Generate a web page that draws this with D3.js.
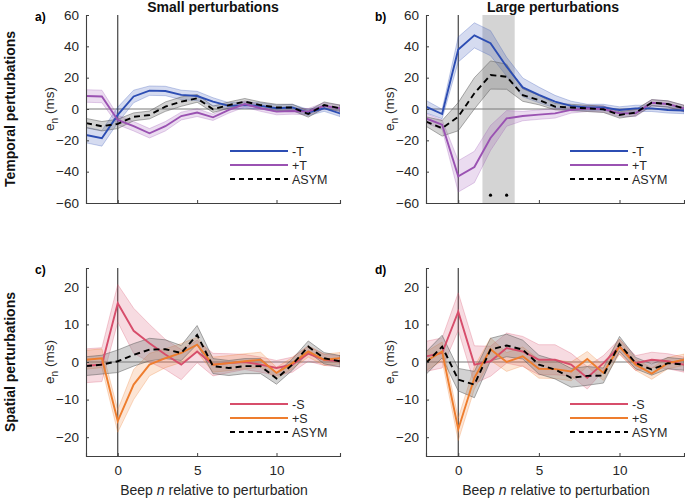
<!DOCTYPE html>
<html>
<head>
<meta charset="utf-8">
<script src="https://cdn.jsdelivr.net/npm/d3@7"></script>
<style>
  body { margin: 0; background: white; }
  svg { font-family: "Liberation Sans", Arial, sans-serif; }
</style>
</head>
<body>
<div id="chart"></div>
<script>
const W = 685, H = 500;

// beep index relative to perturbation
const beeps = [-2, -1, 0, 1, 2, 3, 4, 5, 6, 7, 8, 9, 10, 11, 12, 13, 14];
const xTicks = [0, 5, 10];
const tempTicks = [-60, -40, -20, 0, 20, 40, 60];
const spatTicks = [-20, -10, 0, 10, 20];

// panel a: small temporal
const aMinusT = [-16.6, -18.7, -3.8, 8, 11.7, 11.5, 9, 8.3, 4.7, 2, 2.5, 2, 0.5, 1, -2.3, 0.5, -2.8];
const aMinusTErr = [5, 5, 5, 4, 3, 3, 3, 3, 2.5, 2, 2, 2, 2, 2, 2, 2, 2];
const aPlusT = [8.3, 8, -7, -11, -15.5, -11, -4.5, -2.3, -5.3, -0.6, 3.2, 0.5, -1.7, -1.3, -1.7, 2, 0.5];
const aPlusTErr = [4, 4, 3, 3, 3, 3, 2.5, 2.5, 2, 2, 2, 2, 2, 2, 2, 2, 2];
const aAsym = [-9, -11, -9.5, -5, -3.8, 1.5, 4.7, 6.8, -0.2, 2.5, 4.7, 2.5, 1, 1, -3.2, 2.5, 0.5];
const aAsymErr = [3, 3, 3, 2.5, 2.5, 3, 3, 2.5, 2, 2, 2, 2, 2, 2, 2, 2, 2];

// panel b: large temporal
const bMinusT = [1.5, -3.2, 38, 47, 42, 27, 13.8, 9, 4.7, 2, 1, 1, -0.6, 0.4, 0.4, -0.6, -1];
const bMinusTErr = [4, 3, 8, 8, 8, 6, 6, 5, 4, 3, 2, 2, 2, 2, 2, 2, 2];
const bPlusT = [-6, -10, -43, -37, -18.5, -6, -4.5, -3.6, -2.8, -0.6, 0.4, 0, -2.8, -2.8, 4, 3.2, 0.4];
const bPlusTErr = [3, 3, 10, 10, 8, 5, 3, 3, 3, 2, 2, 2, 2, 2, 2, 2, 2];
const bAsym = [-8, -12.3, -4.9, 10, 21.7, 20.6, 8.9, 5.7, 1.5, 1, 0.4, -0.2, -3.8, -2.3, 4, 3.2, 0.4];
const bAsymErr = [3, 5, 9, 10, 9, 8, 4, 3, 2, 2, 2, 2, 2, 2, 2, 2, 2];
const sigBand = [1.5, 3.5];
const sigBeeps = [2, 3];

// panel c: small spatial
const cMinusS = [-1, -0.7, 15.6, 8.3, 5, 2, -0.7, 2.8, -0.7, -0.3, 0, -0.7, -1.6, -0.7, 2.2, 0.6, 0.2];
const cMinusSErr = [4.5, 4.5, 5, 6, 5, 4, 4, 3, 3, 2.5, 2, 2, 2, 2, 2, 1.5, 1.5];
const cPlusS = [0.6, 1, -15.7, -6, -0.7, 1, 2.4, 4.6, -0.7, -0.3, 0.2, 0.6, -2.9, -0.3, 2.8, 0.6, 1];
const cPlusSErr = [2.5, 2.5, 3, 4, 3, 2.5, 2.5, 2, 2, 2, 2, 2, 1.5, 1.5, 1.5, 1.5, 1.5];
const cAsym = [-1.1, -0.7, 0.2, 1.9, 3.3, 3.4, 2.4, 7.2, -1.1, -1.6, -1.1, -1.1, -4.4, -0.7, 4.1, 1, 0.2];
const cAsymErr = [2.5, 2.5, 3, 3, 3, 2.5, 2, 2.5, 2, 2, 2, 2, 1.5, 1.5, 1.5, 1.5, 1.5];

// panel d: large spatial
const dMinusS = [1.5, 2.4, 13.4, -0.7, 0.2, 3.7, 2.8, 0.6, 0.6, -0.7, -4.2, -0.3, 4.1, -0.3, 0.6, 0.2, -0.7];
const dMinusSErr = [4, 4, 5, 5, 4, 4, 4, 4, 4, 3, 3, 2, 2, 2, 2, 2, 2];
const dPlusS = [0.2, 2.8, -17.9, -4.2, 3.4, 0, 1.5, -1.8, -1.9, -2.5, 0.8, -2.9, 4.1, -0.7, -3.1, -0.3, 0.6];
const dPlusSErr = [2.5, 2.5, 3, 3, 3, 2.5, 2.5, 2.5, 2.5, 2.5, 2, 2, 2, 1.5, 1.5, 1.5, 1.5];
const dAsym = [-0.3, 4.1, -4.7, -6, 3.3, 4.4, 3.3, -0.7, -2, -4.2, -3.7, -3.6, 4.8, -0.3, -2, -0.3, -0.7];
const dAsymErr = [3, 3, 3, 3.5, 3, 3, 2.5, 2.5, 2.5, 2.5, 2.5, 2, 2, 1.5, 1.5, 1.5, 1.5];

const blue = "#2c4db3";
const purple = "#9a52b2";
const crimson = "#d74d6b";
const orange = "#ee7d2e";
const axisCol = "#404040";

const svg = d3.select("#chart").append("svg")
  .attr("width", W).attr("height", H);

const panels = [
  { id: "a)", x0: 86, x1: 340, y0: 15, y1: 203, dom: [-60, 60], ticks: tempTicks, xlab: false,
    series: [
      { name: "-T", v: aMinusT, e: aMinusTErr, c: blue },
      { name: "+T", v: aPlusT, e: aPlusTErr, c: purple },
      { name: "ASYM", v: aAsym, e: aAsymErr, c: "black", dash: true }] },
  { id: "b)", x0: 426, x1: 684, y0: 15, y1: 203, dom: [-60, 60], ticks: tempTicks, xlab: false, sig: true,
    series: [
      { name: "-T", v: bMinusT, e: bMinusTErr, c: blue },
      { name: "+T", v: bPlusT, e: bPlusTErr, c: purple },
      { name: "ASYM", v: bAsym, e: bAsymErr, c: "black", dash: true }] },
  { id: "c)", x0: 86, x1: 340, y0: 268, y1: 456, dom: [-25, 25], ticks: spatTicks, xlab: true,
    series: [
      { name: "-S", v: cMinusS, e: cMinusSErr, c: crimson },
      { name: "+S", v: cPlusS, e: cPlusSErr, c: orange },
      { name: "ASYM", v: cAsym, e: cAsymErr, c: "black", dash: true }] },
  { id: "d)", x0: 426, x1: 684, y0: 268, y1: 456, dom: [-25, 25], ticks: spatTicks, xlab: true,
    series: [
      { name: "-S", v: dMinusS, e: dMinusSErr, c: crimson },
      { name: "+S", v: dPlusS, e: dPlusSErr, c: orange },
      { name: "ASYM", v: dAsym, e: dAsymErr, c: "black", dash: true }] }
];

panels.forEach(p => {
  const x = d3.scaleLinear().domain([-2, 14]).range([p.x0, p.x1]);
  const y = d3.scaleLinear().domain(p.dom).range([p.y1, p.y0]);
  const g = svg.append("g");

  const clipId = "clip" + p.id[0];
  g.append("clipPath").attr("id", clipId).append("rect")
    .attr("x", p.x0).attr("y", p.y0).attr("width", p.x1 - p.x0).attr("height", p.y1 - p.y0);
  const plot = g.append("g").attr("clip-path", `url(#${clipId})`);

  if (p.sig) {
    plot.append("rect")
      .attr("x", x(sigBand[0])).attr("width", x(sigBand[1]) - x(sigBand[0]))
      .attr("y", p.y0).attr("height", p.y1 - p.y0)
      .attr("fill", "#d4d4d4");
  }

  // reference lines
  plot.append("line")
    .attr("x1", p.x0).attr("x2", p.x1).attr("y1", y(0)).attr("y2", y(0))
    .attr("stroke", "#7a7a7a").attr("stroke-width", 1.2);
  plot.append("line")
    .attr("x1", x(0)).attr("x2", x(0)).attr("y1", p.y0).attr("y2", p.y1)
    .attr("stroke", "#333").attr("stroke-width", 1.1);

  const area = d3.area().x((d, i) => x(beeps[i]))
    .y0(d => y(d[0])).y1(d => y(d[1]));
  const line = d3.line().x((d, i) => x(beeps[i])).y(d => y(d));

  p.series.forEach(s => {
    const band = s.v.map((v, i) => [v - s.e[i], v + s.e[i]]);
    const bandCol = s.dash ? "#7f7f7f" : s.c;
    plot.append("path").datum(band).attr("d", area)
      .attr("fill", bandCol).attr("fill-opacity", s.dash ? 0.35 : 0.2)
      .attr("stroke", s.dash ? "#555" : s.c).attr("stroke-opacity", s.dash ? 0.6 : 0.35)
      .attr("stroke-width", 0.8);
  });
  p.series.forEach(s => {
    plot.append("path").datum(s.v).attr("d", line)
      .attr("fill", "none").attr("stroke", s.c).attr("stroke-width", 1.9)
      .attr("stroke-dasharray", s.dash ? "6,4" : null);
  });

  if (p.sig) {
    g.selectAll("circle.sig").data(sigBeeps).join("circle")
      .attr("cx", d => x(d)).attr("cy", y(-55)).attr("r", 1.6).attr("fill", "black");
  }

  // axes (ticks inward, MATLAB style)
  const ya = g.append("g").attr("transform", `translate(${p.x0},0)`)
    .call(d3.axisLeft(y).tickValues(p.ticks).tickSize(-3).tickPadding(7));
  const xa = g.append("g").attr("transform", `translate(0,${p.y1})`)
    .call(d3.axisBottom(x).tickValues(xTicks).tickSize(-3).tickPadding(9)
      .tickFormat(p.xlab ? d3.format("d") : () => ""));
  [ya, xa].forEach(a => {
    a.select(".domain").attr("stroke", axisCol).attr("stroke-width", 1.1);
    a.selectAll(".tick line").attr("stroke", axisCol);
    a.selectAll("text").attr("fill", "#262626").attr("font-size", 13.5)
      .attr("font-family", "Liberation Sans, Arial, sans-serif");
  });

  // y label
  const yl = g.append("text")
    .attr("transform", `translate(${p.x0 - 32},${(p.y0 + p.y1) / 2}) rotate(-90)`)
    .attr("text-anchor", "middle").attr("font-size", 13.5).attr("fill", "#262626");
  yl.append("tspan").text("e");
  yl.append("tspan").attr("font-size", 10).attr("dy", 4).text("n");
  yl.append("tspan").attr("dy", -4).text(" (ms)");

  // panel letter
  g.append("text").attr("x", p.x0 - 51).attr("y", p.y0 + 6)
    .attr("font-size", 12).attr("font-weight", "bold").text(p.id);

  // legend
  const lx = p.x0 + 144, ly = p.y0 + 136;
  p.series.forEach((s, i) => {
    const yy = ly + i * 14;
    g.append("line").attr("x1", lx).attr("x2", lx + 58).attr("y1", yy).attr("y2", yy)
      .attr("stroke", s.c).attr("stroke-width", 1.9)
      .attr("stroke-dasharray", s.dash ? "5,4" : null);
    g.append("text").attr("x", lx + 62).attr("y", yy + 4.5)
      .attr("font-size", 12.5).attr("fill", "#262626").text(s.name);
  });

  if (p.xlab) {
    const xl = g.append("text").attr("x", (p.x0 + p.x1) / 2 + 1).attr("y", 495)
      .attr("text-anchor", "middle").attr("font-size", 14).attr("fill", "#262626");
    xl.append("tspan").text("Beep ");
    xl.append("tspan").attr("font-style", "italic").text("n");
    xl.append("tspan").text(" relative to perturbation");
  }
});

// column titles
[["Small perturbations", 213], ["Large perturbations", 553]].forEach(([t, cx]) => {
  svg.append("text").attr("x", cx).attr("y", 12).attr("text-anchor", "middle")
    .attr("font-size", 14).attr("font-weight", "bold").attr("fill", "#111").text(t);
});

// row titles
[["Temporal perturbations", 109], ["Spatial perturbations", 362]].forEach(([t, cy]) => {
  svg.append("text").attr("transform", `translate(15,${cy}) rotate(-90)`)
    .attr("text-anchor", "middle").attr("font-size", 14).attr("font-weight", "bold")
    .attr("fill", "#111").text(t);
});
</script>
</body>
</html>
